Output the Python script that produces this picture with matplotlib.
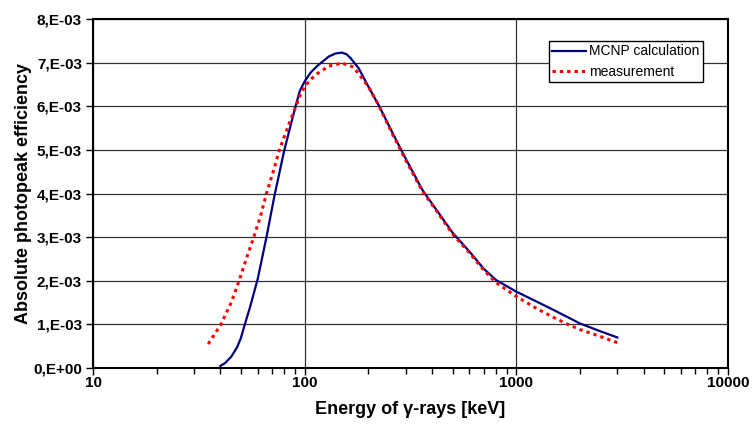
import matplotlib
matplotlib.use("Agg")
import matplotlib.pyplot as plt
from matplotlib.ticker import FixedLocator, LogLocator, NullFormatter

plt.rcParams['font.family'] = ['Liberation Sans', 'DejaVu Sans']

# MCNP calculation (energy in keV, efficiency in 1e-3)
mcnp_energy = [40, 42, 45, 48, 50, 52, 55, 60, 66, 72, 80, 85, 90, 95, 100, 107,
               115, 130, 140, 150, 158, 165, 180, 200, 225, 260, 300, 360, 420,
               500, 600, 700, 800, 1000, 1250, 1500, 2000, 2500, 3000]
mcnp_eff = [0.05, 0.11, 0.26, 0.48, 0.69, 0.98, 1.37, 2.04, 3.0, 3.95, 4.98, 5.48,
            5.95, 6.36, 6.57, 6.78, 6.93, 7.14, 7.21, 7.23, 7.19, 7.10, 6.87, 6.45,
            6.0, 5.39, 4.8, 4.08, 3.62, 3.10, 2.67, 2.28, 2.02, 1.75, 1.52, 1.33,
            1.02, 0.84, 0.70]

# measurement
meas_energy = [35, 40, 45, 49, 53, 57.5, 62, 66, 71, 76, 85, 91, 95, 100, 107,
               115, 130, 150, 170, 200, 225, 260, 300, 360, 420, 500, 600, 700,
               800, 1000, 1250, 1500, 1750, 2000, 2500, 3000]
meas_eff = [0.55, 0.98, 1.5, 2.0, 2.5, 3.0, 3.5, 4.0, 4.5, 5.0, 5.64, 6.0, 6.24,
            6.45, 6.62, 6.75, 6.92, 6.99, 6.9, 6.45, 6.0, 5.36, 4.77, 4.05, 3.6,
            3.07, 2.64, 2.25, 1.96, 1.64, 1.36, 1.16, 1.0, 0.88, 0.72, 0.58]

y_ticks = [0, 1, 2, 3, 4, 5, 6, 7, 8]
y_labels = ["0,E+00"] + ["%d,E-03" % v for v in y_ticks[1:]]
x_ticks = [10, 100, 1000, 10000]

fig = plt.figure(figsize=(7.52, 4.25), dpi=100)
ax = fig.add_axes([93 / 752, 1 - 368 / 425, (728 - 93) / 752, (368 - 19) / 425])

ax.plot(mcnp_energy, [v * 1e-3 for v in mcnp_eff], color="#000080", lw=1.6,
        label="MCNP calculation", zorder=3)
ax.plot(meas_energy, [v * 1e-3 for v in meas_eff], color="#ff0000", lw=2.2,
        linestyle=(0, (1.1, 1.3)), label="measurement", zorder=3)

ax.set_xscale("log")
ax.set_xlim(10, 10000)
ax.set_ylim(0, 8e-3)
ax.xaxis.set_major_locator(FixedLocator(x_ticks))
ax.set_xticklabels([str(v) for v in x_ticks])
ax.xaxis.set_minor_locator(LogLocator(base=10, subs=range(2, 10)))
ax.xaxis.set_minor_formatter(NullFormatter())
ax.set_yticks([v * 1e-3 for v in y_ticks])
ax.set_yticklabels(y_labels)

ax.grid(True, which="major", color="#333333", lw=0.9)
ax.set_axisbelow(True)
for s in ax.spines.values():
    s.set_linewidth(1.5)
    s.set_color("black")

ax.tick_params(axis="both", which="major", direction="out", length=5, width=1,
               labelsize=11, pad=3)
ax.tick_params(axis="x", which="major", pad=1)
ax.tick_params(axis="x", which="minor", direction="out", length=4, width=1)
for lab in ax.get_xticklabels() + ax.get_yticklabels():
    lab.set_fontweight("bold")

ax.set_xlabel("Energy of γ-rays [keV]", fontsize=13, fontweight="bold", labelpad=8)
ax.set_ylabel("Absolute photopeak efficiency", fontsize=13, fontweight="bold", labelpad=1)

leg = ax.legend(loc="upper right", bbox_to_anchor=(703 / 752, 1 - 41 / 425),
                bbox_transform=fig.transFigure, borderaxespad=0, fancybox=False,
                framealpha=1, edgecolor="black", fontsize=10, handlelength=2.4,
                handletextpad=0.25, borderpad=0.25, labelspacing=0.45)
leg.get_frame().set_linewidth(1.0)

fig.savefig("out.png", dpi=100)
